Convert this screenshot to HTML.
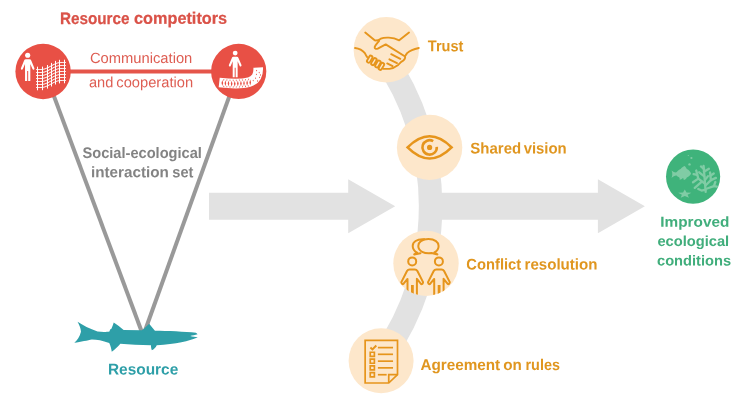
<!DOCTYPE html>
<html lang="en">
<head>
<meta charset="utf-8">
<title>Social-ecological interaction set</title>
<style>
html,body{margin:0;padding:0;background:#fff;}
body{width:750px;height:408px;overflow:hidden;}
svg{display:block;will-change:transform;}
text{font-family:"Liberation Sans",sans-serif;text-rendering:geometricPrecision;}
.sb{font-weight:bold;}
.ic{fill:none;stroke:#e6951c;stroke-linecap:round;stroke-linejoin:round;}
</style>
</head>
<body>
<svg width="750" height="408" viewBox="0 0 750 408">
<rect width="750" height="408" fill="#ffffff"/>
<!-- grey flow path + arrows -->
<g id="flow">
<path d="M383.4 56 A262 262 0 0 1 383.4 356" fill="none" stroke="#e2e2e2" stroke-width="23.5"/>
<polygon points="209,192.8 348.2,192.8 348.2,179.2 395.2,206.2 348.2,233.2 348.2,219.7 209,219.7" fill="#e2e2e2"/>
<polygon points="431,192.8 597.9,192.8 597.9,179.2 644.9,206.2 597.9,233.2 597.9,219.7 431,219.7" fill="#e2e2e2"/>
</g>
<!-- triangle lines -->
<g id="tri" stroke="#999999" stroke-width="4" fill="none">
<line x1="44.8" y1="71.6" x2="142.5" y2="333.7"/>
<line x1="238.2" y1="71.6" x2="143.9" y2="333.7"/>
</g>
<line x1="43" y1="71.5" x2="239" y2="71.5" stroke="#e5554a" stroke-width="4.2"/>
<!-- competitor 1 -->
<g id="competitor1">
<circle cx="43.1" cy="71.5" r="27.7" fill="#e85045"/>
<g fill="#ffffff"><circle cx="27.68" cy="55.24" r="2.57"/><path d="M25.91 59.35 L29.44 59.35 Q30.91 59.35 31.35 60.82 L34.44 68.18 Q34.74 69.35 33.71 69.65 Q32.82 69.79 32.38 68.76 L30.32 64.06 L30.32 81.12 L28.19 81.12 L28.19 71.12 L27.16 71.12 L27.16 81.12 L25.03 81.12 L25.03 64.06 L22.97 68.76 Q22.53 69.79 21.65 69.65 Q20.62 69.35 20.91 68.18 L24.00 60.82 Q24.44 59.35 25.91 59.35 Z"/></g>
<path d="M36.2 69.5 L37.2 69.5 L38.2 69.5 L39.2 69.5 L40.1 69.5 L41.1 69.5 L42.1 69.4 L43.1 69.3 L44.1 69.1 L45.1 68.8 L46.1 68.4 L47.1 68.0 L48.0 67.6 L49.0 67.1 L50.0 66.5 L51.0 66.0 L52.0 65.5 L53.0 64.9 L54.0 64.4 L54.9 64.0 L55.9 63.6 L56.9 63.2 L57.9 62.9 L58.9 62.7 L59.9 62.6 L60.9 62.5 L61.9 62.5 L62.8 62.5 L63.8 62.5 L64.8 62.5 L65.8 62.5 M36.2 72.5 L37.2 72.5 L38.2 72.5 L39.2 72.5 L40.1 72.5 L41.1 72.5 L42.1 72.4 L43.1 72.3 L44.1 72.1 L45.1 71.8 L46.1 71.4 L47.1 71.0 L48.0 70.6 L49.0 70.1 L50.0 69.5 L51.0 69.0 L52.0 68.5 L53.0 67.9 L54.0 67.4 L54.9 67.0 L55.9 66.6 L56.9 66.2 L57.9 65.9 L58.9 65.7 L59.9 65.6 L60.9 65.5 L61.9 65.5 L62.8 65.5 L63.8 65.5 L64.8 65.5 L65.8 65.5 M36.2 75.5 L37.2 75.5 L38.2 75.5 L39.2 75.5 L40.1 75.5 L41.1 75.5 L42.1 75.4 L43.1 75.3 L44.1 75.1 L45.1 74.8 L46.1 74.4 L47.1 74.0 L48.0 73.6 L49.0 73.1 L50.0 72.5 L51.0 72.0 L52.0 71.5 L53.0 70.9 L54.0 70.4 L54.9 70.0 L55.9 69.6 L56.9 69.2 L57.9 68.9 L58.9 68.7 L59.9 68.6 L60.9 68.5 L61.9 68.5 L62.8 68.5 L63.8 68.5 L64.8 68.5 L65.8 68.5 M36.2 78.5 L37.2 78.5 L38.2 78.5 L39.2 78.5 L40.1 78.5 L41.1 78.5 L42.1 78.4 L43.1 78.3 L44.1 78.1 L45.1 77.8 L46.1 77.4 L47.1 77.0 L48.0 76.6 L49.0 76.1 L50.0 75.5 L51.0 75.0 L52.0 74.5 L53.0 73.9 L54.0 73.4 L54.9 73.0 L55.9 72.6 L56.9 72.2 L57.9 71.9 L58.9 71.7 L59.9 71.6 L60.9 71.5 L61.9 71.5 L62.8 71.5 L63.8 71.5 L64.8 71.5 L65.8 71.5 M36.2 81.5 L37.2 81.5 L38.2 81.5 L39.2 81.5 L40.1 81.5 L41.1 81.5 L42.1 81.4 L43.1 81.3 L44.1 81.1 L45.1 80.8 L46.1 80.4 L47.1 80.0 L48.0 79.6 L49.0 79.1 L50.0 78.5 L51.0 78.0 L52.0 77.5 L53.0 76.9 L54.0 76.4 L54.9 76.0 L55.9 75.6 L56.9 75.2 L57.9 74.9 L58.9 74.7 L59.9 74.6 L60.9 74.5 L61.9 74.5 L62.8 74.5 L63.8 74.5 L64.8 74.5 L65.8 74.5 M36.2 84.5 L37.2 84.5 L38.2 84.5 L39.2 84.5 L40.1 84.5 L41.1 84.5 L42.1 84.4 L43.1 84.3 L44.1 84.1 L45.1 83.8 L46.1 83.4 L47.1 83.0 L48.0 82.6 L49.0 82.1 L50.0 81.5 L51.0 81.0 L52.0 80.5 L53.0 79.9 L54.0 79.4 L54.9 79.0 L55.9 78.6 L56.9 78.2 L57.9 77.9 L58.9 77.7 L59.9 77.6 L60.9 77.5 L61.9 77.5 L62.8 77.5 L63.8 77.5 L64.8 77.5 L65.8 77.5 M36.2 87.5 L37.2 87.5 L38.2 87.5 L39.2 87.5 L40.1 87.5 L41.1 87.5 L42.1 87.4 L43.1 87.3 L44.1 87.1 L45.1 86.8 L46.1 86.4 L47.1 86.0 L48.0 85.6 L49.0 85.1 L50.0 84.5 L51.0 84.0 L52.0 83.5 L53.0 82.9 L54.0 82.4 L54.9 82.0 L55.9 81.6 L56.9 81.2 L57.9 80.9 L58.9 80.7 L59.9 80.6 L60.9 80.5 L61.9 80.5 L62.8 80.5 L63.8 80.5 L64.8 80.5 L65.8 80.5 M37.5 66.7 L37.5 90.3 M42.5 66.6 L42.5 90.2 M47.5 65.0 L47.5 88.6 M51.5 62.9 L51.5 86.5 M55.5 60.9 L55.5 84.5 M59.5 59.8 L59.5 83.4 M64.5 59.7 L64.5 83.3" fill="none" stroke="#ffffff" stroke-width="1"/>
</g>
<!-- competitor 2 -->
<g id="competitor2">
<circle cx="238.7" cy="71.4" r="27.6" fill="#e85045"/>
<g fill="#ffffff"><circle cx="235.18" cy="53.03" r="2.40"/><path d="M233.53 56.87 L236.82 56.87 Q238.19 56.87 238.60 58.23 L241.48 65.08 Q241.75 66.18 240.79 66.45 Q239.97 66.59 239.56 65.63 L237.64 61.25 L237.64 77.14 L235.66 77.14 L235.66 67.82 L234.70 67.82 L234.70 77.14 L232.71 77.14 L232.71 61.25 L230.79 65.63 Q230.38 66.59 229.56 66.45 Q228.60 66.18 228.88 65.08 L231.75 58.23 Q232.16 56.87 233.53 56.87 Z"/></g>
<path d="M219.2 82.6 C230 83.8 242 84.2 249 82.2 C255.8 80 258.6 75.5 258.2 67.6" fill="none" stroke="#ffffff" stroke-width="9.6"/>
<path d="M222.3 80.0 L223.2 83.0 L222.3 86.0 L221.5 83.0 Z M225.4 80.3 L226.2 83.3 L225.4 86.3 L224.6 83.3 Z M228.5 80.5 L229.3 83.5 L228.5 86.5 L227.7 83.5 Z M231.6 80.7 L232.5 83.7 L231.6 86.7 L230.8 83.7 Z M234.7 80.7 L235.6 83.7 L234.7 86.7 L233.9 83.7 Z M237.8 80.6 L238.7 83.6 L237.8 86.6 L237.0 83.6 Z M240.9 80.5 L241.8 83.5 L240.9 86.5 L240.1 83.5 Z M244.0 80.2 L244.8 83.2 L244.0 86.2 L243.2 83.2 Z M247.1 79.9 L248.0 82.9 L247.1 85.9 L246.3 82.9 Z M250.2 79.6 L251.1 82.6 L250.2 85.6 L249.4 82.6 Z M223.2 79.3 L224.4 79.3 L223.8 81.2 Z M223.2 87.1 L224.4 87.1 L223.8 85.2 Z M226.3 79.5 L227.5 79.5 L226.9 81.4 Z M226.3 87.3 L227.5 87.3 L226.9 85.4 Z M229.4 79.7 L230.6 79.7 L230.0 81.6 Z M229.4 87.5 L230.6 87.5 L230.0 85.6 Z M232.6 79.8 L233.8 79.8 L233.2 81.7 Z M232.6 87.6 L233.8 87.6 L233.2 85.7 Z M235.7 79.8 L236.8 79.8 L236.2 81.7 Z M235.7 87.6 L236.8 87.6 L236.2 85.7 Z M238.8 79.6 L239.9 79.6 L239.3 81.5 Z M238.8 87.4 L239.9 87.4 L239.3 85.5 Z M241.8 79.4 L243.0 79.4 L242.4 81.3 Z M241.8 87.2 L243.0 87.2 L242.4 85.3 Z M244.9 79.2 L246.1 79.2 L245.5 81.1 Z M244.9 87.0 L246.1 87.0 L245.5 85.1 Z M248.1 78.8 L249.2 78.8 L248.7 80.7 Z M248.1 86.6 L249.2 86.6 L248.7 84.7 Z M253.2 79.7 l0.6 0.9 l-0.6 0.9 l-0.6 -0.9 Z M255.6 77.3 l0.6 0.9 l-0.6 0.9 l-0.6 -0.9 Z M257.6 80.1 l0.6 0.9 l-0.6 0.9 l-0.6 -0.9 Z M259.6 76.5 l0.6 0.9 l-0.6 0.9 l-0.6 -0.9 Z M256.4 73.5 l0.6 0.9 l-0.6 0.9 l-0.6 -0.9 Z M259.2 71.7 l0.6 0.9 l-0.6 0.9 l-0.6 -0.9 Z M260.6 74.1 l0.6 0.9 l-0.6 0.9 l-0.6 -0.9 Z M256.6 69.7 l0.6 0.9 l-0.6 0.9 l-0.6 -0.9 Z" fill="#e85045"/>
</g>
<!-- resource fish -->
<g id="fish" fill="#2e9fa8">
<path d="M 77.56 321.66 C 82.6 325.08 89.8 328.68 97.54 331.56 C 102.4 332.28 106.9 332.1 109.42 331.56 L 110.14 329.4 L 111.4 328.68 C 112.3 326.88 113.02 324.72 113.74 322.56 C 117.16 324.72 120.4 327.6 123.64 329.94 L 141.99 330.3 C 144.69 327.96 147.03 325.44 149.19 323.64 C 151.35 326.16 153.15 328.68 154.95 330.84 C 167.19 330.84 185.19 331.74 195.99 332.82 L 197.61 334.26 C 195.09 335.16 192.39 335.34 190.23 335.88 C 192.75 336.6 195.27 336.6 197.79 337.14 C 194.19 339.3 181.59 342.9 163.59 344.7 L 156.75 345.24 C 155.67 347.76 153.87 349.2 151.89 350.28 C 151.17 348.48 150.99 347.04 150.99 345.24 C 140.19 345.24 129.4 344.7 120.4 343.8 C 117.7 347.04 115 349.56 111.76 351.72 C 111.4 349.2 110.68 345.96 109.24 342.9 C 102.4 340.56 97 339.48 91.96 339.48 C 88 340.2 80.8 342 74.32 342.72 C 77.2 340.56 79.72 336.6 80.98 331.74 C 80.8 328.5 79.36 324.9 77.56 321.66 Z"/>
</g>
<!-- step circles -->
<g id="steps" fill="#fde7cb">
<circle cx="386.3" cy="49.8" r="32.7"/>
<circle cx="429.6" cy="147.4" r="32.7"/>
<circle cx="426" cy="263.4" r="32.7"/>
<circle cx="381.1" cy="360.8" r="32.5"/>
</g>
<!-- trust icon -->
<g id="ic-trust" class="ic" stroke-width="1.9">
<path d="M 365.24 32.6 L 374.68 40.32 C 376.52 40.69 378.36 40.32 380.81 38.73 C 384.49 37.01 392.46 37.01 399.2 40.32 L 409.01 32.6"/>
<path d="M 379.22 40.69 C 377.13 43.39 375.29 45.23 374.68 47.07 C 374.43 48.66 375.91 49.27 377.74 48.54 L 385.71 44.37 L 404.72 56.26"/>
<path d="M 355.06 48.05 C 359.36 48.54 362.42 50.13 364.87 53.2 C 365.73 55.04 366.47 56.26 367.2 57.12"/>
<path d="M418.8 48 C414 49 410 50.5 407.1 53.1 L405 56.2 C405.8 58.5 404.5 60 401.2 61.9 L398.2 64.9 C396 66.5 393 68.3 389.4 68.9 L383.5 68.9"/>
<path d="M391.2 54.2 L400.3 58.8"/>
<path d="M389.4 59.3 L397 63.1"/>
<path d="M387.2 63.4 L392.6 66.1"/>
<rect x="368.05" y="55.40" width="3.30" height="7.60" rx="1.65" transform="rotate(30 369.70 59.20)"/>
<rect x="372.25" y="57.80" width="3.30" height="7.60" rx="1.65" transform="rotate(30 373.90 61.60)"/>
<rect x="376.25" y="60.20" width="3.30" height="7.60" rx="1.65" transform="rotate(30 377.90 64.00)"/>
<rect x="379.75" y="62.60" width="3.30" height="7.60" rx="1.65" transform="rotate(30 381.40 66.40)"/>
</g>
<!-- shared vision icon -->
<g id="ic-eye" fill="none" stroke="#e6951c" stroke-width="2.6">
<path d="M407.6 147.4 C415.6 139.4 422.1 136.3 429.6 136.3 C437.1 136.3 443.6 139.4 451.6 147.4 C443.6 155.4 437.1 158.5 429.6 158.5 C422.1 158.5 415.6 155.4 407.6 147.4 Z" stroke-linejoin="miter" stroke-miterlimit="10"/>
<path d="M436.77 146.77 A7.2 7.2 0 1 1 433.20 141.16" stroke-linecap="butt"/>
<circle cx="429.6" cy="147.4" r="2.6" fill="#e6951c" stroke="none"/>
</g>
<!-- conflict resolution icon -->
<clipPath id="clipc"><circle cx="426" cy="263.4" r="32.7"/></clipPath>
<g id="ic-conflict" class="ic" stroke-width="2" clip-path="url(#clipc)">
<path d="M424.2 239.3 C416.5 238.6 412.7 242.4 412.7 246 C412.7 249 414.4 251.3 417.2 252.6 L414.2 254.4 L420.4 253.3"/>
<path d="M428.4 239 C435 239 438.6 242.4 438.6 246 C438.6 248.8 437 251.2 434.4 252.5 L437.4 254.4 L431.6 253.1 C424 254 418.3 251 418.3 246 C418.3 242.4 421.8 239 428.4 239 Z"/>
<circle cx="412.2" cy="261.4" r="4"/><path d="M407.5 294.4 L407.5 278.9 L403.6 283.7 C402.6 284.7 400.6 283.4 401.6 281.6 L407.0 271.0 C407.6 269.9 408.4 269.4 409.6 269.4 L414.8 269.4 C416.0 269.4 416.8 269.9 417.4 271.0 L422.8 281.6 C423.8 283.4 421.8 284.7 420.8 283.7 L416.9 278.9 L416.9 294.4"/><path d="M412.4 285.0 L412.4 294.4" stroke-width="2.8" stroke-linecap="butt"/>
<circle cx="438.9" cy="261.4" r="4"/><path d="M434.2 294.4 L434.2 278.9 L430.3 283.7 C429.3 284.7 427.3 283.4 428.3 281.6 L433.7 271.0 C434.3 269.9 435.1 269.4 436.3 269.4 L441.5 269.4 C442.7 269.4 443.5 269.9 444.1 271.0 L449.5 281.6 C450.5 283.4 448.5 284.7 447.5 283.7 L443.6 278.9 L443.6 294.4"/><path d="M439.1 285.0 L439.1 294.4" stroke-width="2.8" stroke-linecap="butt"/>
</g>
<!-- agreement icon -->
<g id="ic-rules" fill="none" stroke="#e6951c" stroke-width="1.7" stroke-linejoin="miter">
<path d="M 365.14 340.44 L 397.51 340.44 L 397.51 374.56 L 388.74 383.02 L 365.14 383.02 Z"/>
<path d="M 388.74 383.02 L 388.74 374.56 L 397.51 374.56"/>
<path d="M 377.89 347.61 L 393.04 347.61"/>
<path d="M 377.89 354.31 L 393.04 354.31"/><path d="M 370.24 352.24 L 374.38 352.24 L 374.38 356.38 L 370.24 356.38 Z"/>
<path d="M 377.89 361.17 L 393.04 361.17"/><path d="M 370.24 359.1 L 374.38 359.1 L 374.38 363.24 L 370.24 363.24 Z"/>
<path d="M 377.89 367.87 L 393.04 367.87"/><path d="M 370.24 365.79 L 374.38 365.79 L 374.38 369.94 L 370.24 369.94 Z"/>
<path d="M 377.89 374.72 L 386.66 374.72"/><path d="M 370.24 372.65 L 374.38 372.65 L 374.38 376.8 L 370.24 376.8 Z"/>
<path d="M 370.4 347.45 L 372.47 349.37 L 376.3 345.54" stroke-width="2"/>
</g>
<!-- outcome -->
<g id="outcome">
<circle cx="693.1" cy="176.6" r="27.1" fill="#3fb37b"/>
<g fill="#80cca5">
<circle cx="691.4" cy="158.0" r="1.1"/><circle cx="689.5" cy="164.4" r="1.2"/><circle cx="688.3" cy="155.5" r="0.6"/>
<path d="M 671.53 170.53 C 673.59 172 675.06 172.74 676.53 172.29 C 677.71 170.82 679.18 169.65 680.65 169.06 C 681.53 167.88 683 166.71 684.76 166.12 C 685.65 167 686.24 168.18 686.82 169.06 C 688.88 169.94 690.5 171.71 691.09 173.62 C 690.5 175.38 688.88 176.71 686.82 177.44 C 686.24 178.76 685.06 179.65 683.74 179.94 C 683.74 178.91 683.44 178.32 682.85 178.03 C 681.97 179.06 680.79 179.65 679.62 179.65 C 679.91 178.62 679.62 177.88 679.03 177.29 C 677.85 176.85 677.12 176.26 676.53 175.53 C 675.06 175.24 673.29 176.41 671.53 177.88 C 672.56 175.68 672.56 172.88 671.53 170.53 Z"/>
<polygon points="684.8,189.5 686.5,192.5 691.4,192.7 687.6,194.7 688.9,197.7 684.8,196.0 680.7,197.7 681.9,194.7 678.1,192.7 683.0,192.5"/>
</g>
<g fill="none" stroke="#80cca5" stroke-width="2.3" stroke-linecap="round" stroke-linejoin="round">
<path d="M 705.65 191.85 L 705.06 183.76 L 703.59 165.82"/><path d="M 705.06 183.76 L 698.29 178.62 L 696.24 170.53"/><path d="M 698.29 178.62 L 693 182.29"/><path d="M 701.82 181.71 L 694.76 187.88"/><path d="M 704.32 176.41 L 699.18 172.29"/><path d="M 703.88 171.71 L 708.88 168.76"/><path d="M 704.03 169.06 L 700.94 166.41"/><path d="M 705.5 185.53 L 710.94 180.09 L 710.06 172.29"/><path d="M 710.94 180.09 L 715.94 177.88"/><path d="M 710.35 175.68 L 713.74 173.47"/><path d="M 707.12 188.47 L 713.88 186.12 L 715.35 182"/><path d="M 713.88 186.12 L 716.82 186.71"/><path d="M 704.91 180.09 L 708 176.12"/><path d="M 697.12 174.94 L 693.59 174.06"/><path d="M 705.65 189.65 L 701.53 190.53 L 698.29 189.06"/>
</g>
</g>
<!-- labels -->
<g id="labels">
<text class="sb" y="23.8" font-size="16.6" fill="#da5248" stroke="#da5248" stroke-width="0.25" stroke-linejoin="round" transform="rotate(0.03 144 24)"><tspan x="59.93" textLength="69.59" lengthAdjust="spacingAndGlyphs">Resource</tspan> <tspan x="134.07" textLength="93.03" lengthAdjust="spacingAndGlyphs">competitors</tspan></text>
<text y="63" font-size="14.7" fill="#de5d52" transform="rotate(0.03 141 63)"><tspan x="89.92" textLength="102.41" lengthAdjust="spacingAndGlyphs">Communication</tspan></text>
<text y="87.3" font-size="14.7" fill="#de5d52" transform="rotate(0.03 141 87)"><tspan x="88.95" textLength="24.39" lengthAdjust="spacingAndGlyphs">and</tspan> <tspan x="116.34" textLength="76.77" lengthAdjust="spacingAndGlyphs">cooperation</tspan></text>
<text class="sb" y="158" font-size="15.3" fill="#838383" transform="rotate(0.03 142 158)"><tspan x="82.51" textLength="119.36" lengthAdjust="spacingAndGlyphs">Social-ecological</tspan></text>
<text class="sb" y="177.2" font-size="15.3" fill="#838383" transform="rotate(0.03 142 177)"><tspan x="91" textLength="77.92" lengthAdjust="spacingAndGlyphs">interaction</tspan> <tspan x="172.31" textLength="21.11" lengthAdjust="spacingAndGlyphs">set</tspan></text>
<text class="sb" y="374.6" font-size="15.5" fill="#2e9fa8" transform="rotate(0.03 143 375)"><tspan x="108" textLength="70.21" lengthAdjust="spacingAndGlyphs">Resource</tspan></text>
<text class="sb" y="51.3" font-size="15.5" fill="#e0961f" transform="rotate(0.03 446 51)"><tspan x="427.8" textLength="35.6" lengthAdjust="spacingAndGlyphs">Trust</tspan></text>
<text class="sb" y="153.5" font-size="15.5" fill="#e0961f" transform="rotate(0.03 519 154)"><tspan x="470.36" textLength="50.78" lengthAdjust="spacingAndGlyphs">Shared</tspan> <tspan x="523.63" textLength="43.11" lengthAdjust="spacingAndGlyphs">vision</tspan></text>
<text class="sb" y="269.6" font-size="15.5" fill="#e0961f" transform="rotate(0.03 532 270)"><tspan x="466.36" textLength="54.83" lengthAdjust="spacingAndGlyphs">Conflict</tspan> <tspan x="524.55" textLength="72.96" lengthAdjust="spacingAndGlyphs">resolution</tspan></text>
<text class="sb" y="370" font-size="15.5" fill="#e0961f" transform="rotate(0.03 490 370)"><tspan x="420.38" textLength="79.84" lengthAdjust="spacingAndGlyphs">Agreement</tspan> <tspan x="503.34" textLength="18.58" lengthAdjust="spacingAndGlyphs">on</tspan> <tspan x="525.5" textLength="34.46" lengthAdjust="spacingAndGlyphs">rules</tspan></text>
<text class="sb" y="226.8" font-size="14.6" fill="#41ae7c" transform="rotate(0.03 695 227)"><tspan x="660.3" textLength="69.06" lengthAdjust="spacingAndGlyphs">Improved</tspan></text>
<text class="sb" y="246" font-size="14.6" fill="#41ae7c" transform="rotate(0.03 693 246)"><tspan x="657.41" textLength="71.79" lengthAdjust="spacingAndGlyphs">ecological</tspan></text>
<text class="sb" y="265.5" font-size="14.6" fill="#41ae7c" transform="rotate(0.03 694 266)"><tspan x="657.01" textLength="74.09" lengthAdjust="spacingAndGlyphs">conditions</tspan></text>
</g>
</svg>
</body>
</html>
